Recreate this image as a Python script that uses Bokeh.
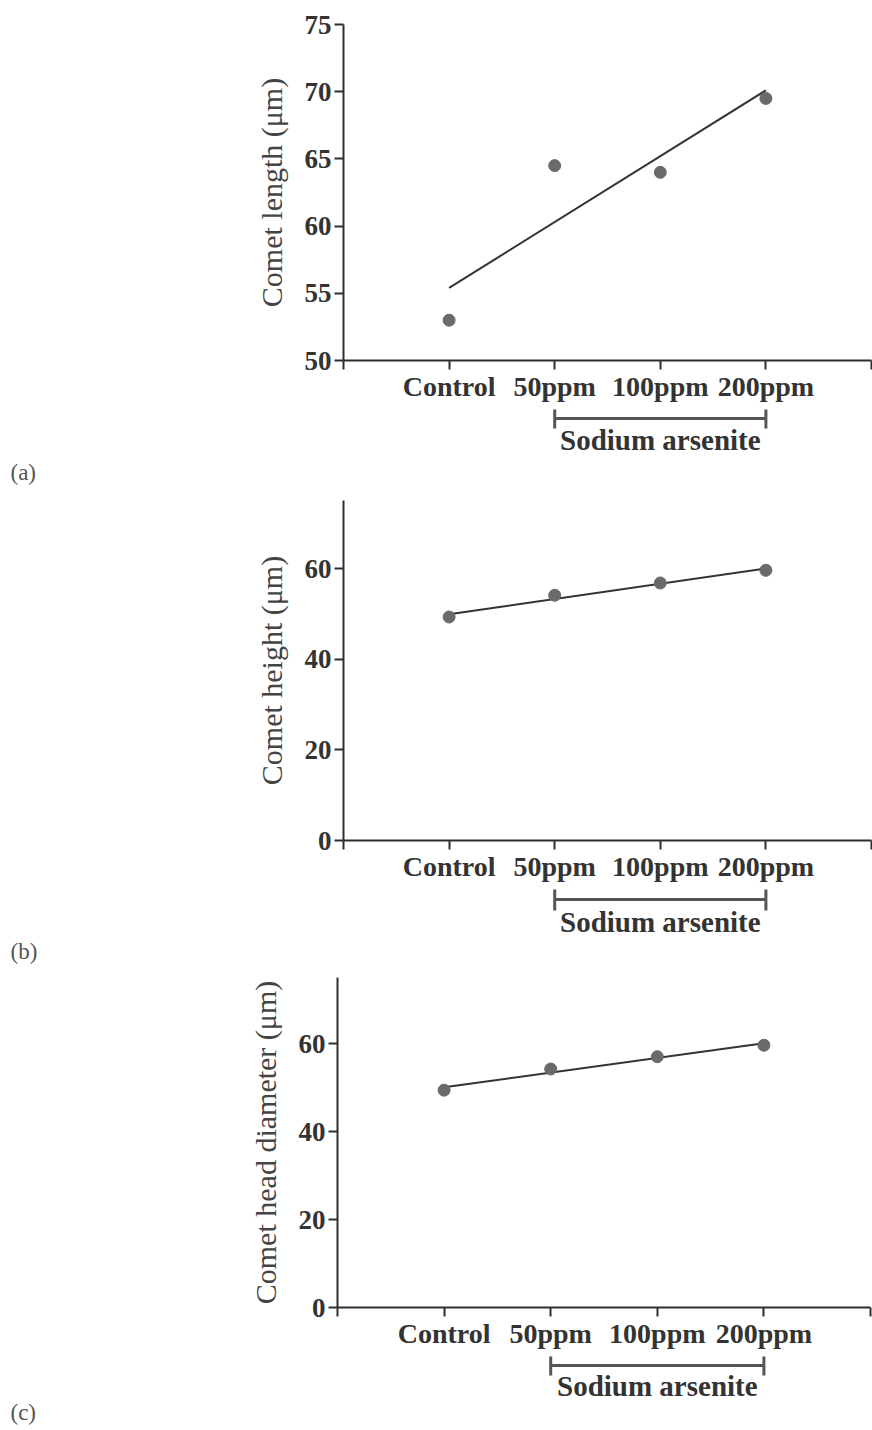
import numpy as np
from bokeh.plotting import figure
from bokeh.layouts import column
from bokeh.models import Range1d, FixedTicker
from bokeh.core.properties import value
from bokeh.embed import file_html
from bokeh.resources import INLINE

# ---------------- data ----------------
categories = ["Control", "50ppm", "100ppm", "200ppm"]
comet_length = [53.0, 64.5, 64.0, 69.5]
comet_height = [49.3, 54.1, 56.8, 59.6]
head_diameter = [49.4, 54.2, 57.0, 59.6]
length_ticks = [50, 55, 60, 65, 70, 75]
size_ticks = [0, 20, 40, 60]
length_limits = (50, 75)
size_limits = (0, 75)
group_label = "Sodium arsenite"
group_members = ["50ppm", "100ppm", "200ppm"]
panel_tags = ["(a)", "(b)", "(c)"]
y_titles = ["Comet length (\u03bcm)", "Comet height (\u03bcm)", "Comet head diameter (\u03bcm)"]

# ---------------- style ----------------
W = 872
SERIF = "Liberation Serif"
TXT = "#333333"
AXC = "#2e2e2e"
DOT = "#6a6a6a"


def main_fig(vals, ticks, ylim, ytitle, top, frame_h, left, right, bottom=48):
    n = len(categories)
    x = np.arange(1, n + 1)
    xr = Range1d(0, n + 1)
    p = figure(width=W, height=top + frame_h + bottom, x_range=xr,
               y_range=Range1d(*ylim), output_backend="svg", toolbar_location=None,
               min_border_top=top, min_border_bottom=bottom,
               min_border_left=left, min_border_right=right)
    p.frame_align = False
    p.outline_line_color = None
    p.xgrid.visible = False
    p.ygrid.visible = False

    overrides = {0: "", n + 1: ""}
    for i, c in enumerate(categories):
        overrides[i + 1] = c
    p.xaxis.ticker = FixedTicker(ticks=list(range(0, n + 2)))
    p.xaxis.major_label_overrides = overrides
    p.yaxis.ticker = FixedTicker(ticks=ticks)

    for ax in (p.xaxis, p.yaxis):
        ax.axis_line_width = 2
        ax.axis_line_color = AXC
        ax.major_tick_line_width = 2
        ax.major_tick_line_color = AXC
        ax.major_tick_out = 9
        ax.major_tick_in = 0
        ax.minor_tick_line_color = None
        ax.major_label_text_font = SERIF
        ax.major_label_text_font_style = "bold"
        ax.major_label_text_color = TXT
    p.xaxis.major_label_text_font_size = "28px"
    p.xaxis.major_label_standoff = 1
    p.yaxis.major_label_text_font_size = "27px"
    p.yaxis.major_label_standoff = 3
    p.yaxis.axis_label = ytitle
    p.yaxis.axis_label_text_font = SERIF
    p.yaxis.axis_label_text_font_style = "normal"
    p.yaxis.axis_label_text_font_size = "30px"
    p.yaxis.axis_label_text_color = "#444444"
    p.yaxis.axis_label_standoff = 14

    fit = np.polyfit(x, vals, 1)
    ends = x[[0, -1]]
    p.line(ends, np.polyval(fit, ends), line_width=2, line_color="#333333")
    p.scatter(x, vals, size=12, fill_color=DOT, line_color=DOT)
    return p


def bottom_fig(height, left, right, line_y, cap_top, cap_bot, text_y, tag, tag_y):
    n = len(categories)
    ppu = (W - left - right) / (n + 1)          # pixels per category step of the main plot
    xr = Range1d(-left / ppu, (n + 1) + right / ppu)
    b = figure(width=W, height=height, x_range=xr, y_range=Range1d(height, 0),
               output_backend="svg", toolbar_location=None,
               x_axis_type=None, y_axis_type=None,
               min_border_top=0, min_border_bottom=0,
               min_border_left=0, min_border_right=0)
    b.frame_align = False
    b.outline_line_color = None
    b.xgrid.visible = False
    b.ygrid.visible = False
    i0 = categories.index(group_members[0]) + 1
    i1 = categories.index(group_members[-1]) + 1
    b.segment(x0=[i0], y0=[line_y], x1=[i1], y1=[line_y], line_width=3, line_color="#555555")
    b.segment(x0=[i0, i1], y0=[cap_top, cap_top], x1=[i0, i1], y1=[cap_bot, cap_bot],
              line_width=3, line_color="#555555")
    b.text(x=[(i0 + i1) / 2], y=[text_y], text=[group_label], text_align="center",
           text_baseline="alphabetic", text_font=value(SERIF), text_font_style="bold",
           text_font_size="29px", text_color=TXT)
    b.text(x=[xr.start + 10 / ppu], y=[tag_y], text=[tag], text_align="left",
           text_baseline="alphabetic", text_font=value(SERIF), text_font_size="23px",
           text_color="#555555")
    return b


# panel (a)
pa = main_fig(comet_length, length_ticks, length_limits, y_titles[0], top=24, frame_h=336, left=343, right=1)
ba = bottom_fig(82, 343, 1, line_y=10, cap_top=1, cap_bot=20, text_y=31, tag=panel_tags[0], tag_y=64)

# panel (b)
pb = main_fig(comet_height, size_ticks, size_limits, y_titles[1], top=10, frame_h=340, left=343, right=1)
bb = bottom_fig(78, 343, 1, line_y=11, cap_top=1, cap_bot=22, text_y=33, tag=panel_tags[1], tag_y=63)

# panel (c)
pc = main_fig(head_diameter, size_ticks, size_limits, y_titles[2], top=11, frame_h=330, left=337, right=2)
bc = bottom_fig(75, 337, 2, line_y=10, cap_top=1, cap_bot=20, text_y=30, tag=panel_tags[2], tag_y=57)

layout = column(pa, ba, pb, bb, pc, bc, spacing=0)

open("out.html", "w").write(file_html(layout, INLINE))
